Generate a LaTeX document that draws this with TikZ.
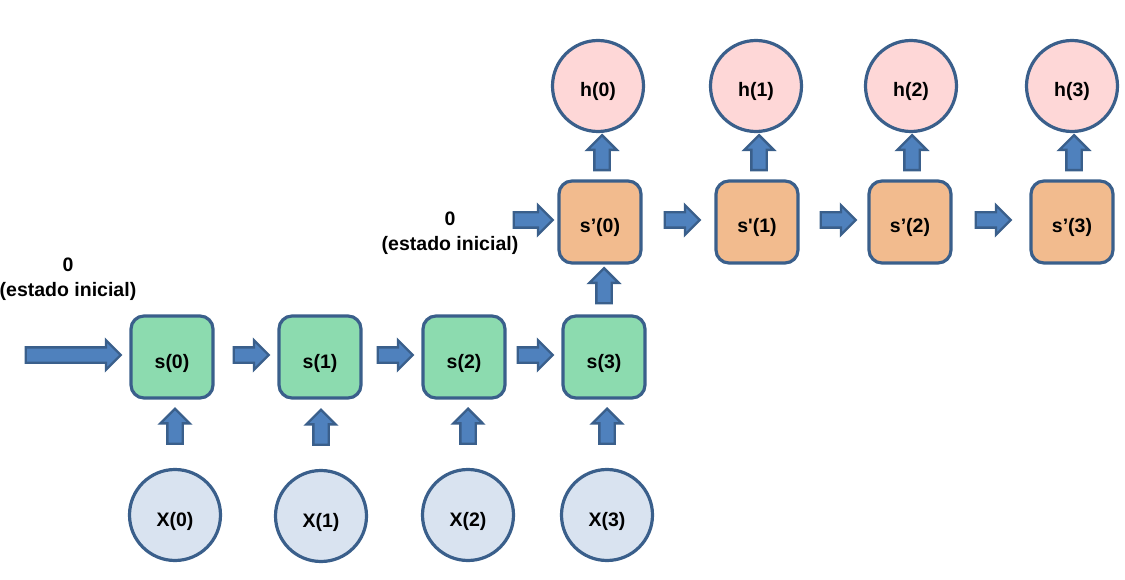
\documentclass[tikz,border=0pt]{standalone}
\usepackage{fontspec}
\setmainfont{Liberation Sans}
\usetikzlibrary{shapes.arrows,calc}

\definecolor{edgeblue}{HTML}{3A5F8B}
\definecolor{arrowblue}{HTML}{4F81BD}
\definecolor{stategreen}{HTML}{8CDBAF}
\definecolor{stateorange}{HTML}{F2BB8E}
\definecolor{outpink}{HTML}{FED7D7}
\definecolor{inblue}{HTML}{D9E3F0}

\tikzset{
  labelfont/.style={font=\fontsize{19.5pt}{25pt}\selectfont\bfseries},
  statebox/.style={labelfont, draw=edgeblue, line width=3.2pt, rounded corners=13pt, minimum size=82pt, inner sep=0pt, text height=22pt, text depth=0pt},
  ballnode/.style={labelfont, circle, draw=edgeblue, line width=3.2pt, minimum size=91pt, inner sep=0pt, text height=22pt, text depth=0pt},
  barrow/.style={single arrow, draw=edgeblue, fill=arrowblue, line width=2.4pt, single arrow head extend=7pt, inner xsep=0pt, inner ysep=6.5pt, minimum height=35pt}
}

\begin{document}
\begin{tikzpicture}[x=1pt, y=-1pt]

    % Fix the size of the picture
    \useasboundingbox (0,0) rectangle (1125,580);

    % Draw the input circles
    \node[ballnode, fill=inblue] (X0) at (175,515) {X(0)};
    \node[ballnode, fill=inblue] (X1) at (321,516) {X(1)};
    \node[ballnode, fill=inblue] (X2) at (468,515) {X(2)};
    \node[ballnode, fill=inblue] (X3) at (607,515) {X(3)};

    % Draw the first row of states
    \node[statebox, fill=stategreen] (s0) at (172,357) {s(0)};
    \node[statebox, fill=stategreen] (s1) at (320,357) {s(1)};
    \node[statebox, fill=stategreen] (s2) at (464,357) {s(2)};
    \node[statebox, fill=stategreen] (s3) at (604,357) {s(3)};

    % Draw the second row of states
    \node[statebox, fill=stateorange] (sp0) at (600,222) {s’(0)};
    \node[statebox, fill=stateorange] (sp1) at (757,222) {s\textquotesingle(1)};
    \node[statebox, fill=stateorange] (sp2) at (910,222) {s’(2)};
    \node[statebox, fill=stateorange] (sp3) at (1072,222) {s’(3)};

    % Draw the output circles
    \node[ballnode, fill=outpink] (h0) at (598,86) {h(0)};
    \node[ballnode, fill=outpink] (h1) at (756,86) {h(1)};
    \node[ballnode, fill=outpink] (h2) at (911,86) {h(2)};
    \node[ballnode, fill=outpink] (h3) at (1072,86) {h(3)};

    % Add the labels for the initial states
    \node[labelfont, align=center] (init0) at (68,279) {0\\(estado inicial)};
    \node[labelfont, align=center] (init1) at (450,233) {0\\(estado inicial)};

    % Arrows from the inputs up to the states
    \node[barrow, rotate=90, anchor=tail] (ax0) at ($(X0.north)+(0,-23)$) {};
    \node[barrow, rotate=90, anchor=tail] (ax1) at ($(X1.north)+(0,-23)$) {};
    \node[barrow, rotate=90, anchor=tail] (ax2) at ($(X2.north)+(0,-23)$) {};
    \node[barrow, rotate=90, anchor=tail] (ax3) at ($(X3.north)+(0,-23)$) {};

    % Arrows along the first row
    \node[barrow, minimum height=95pt, anchor=tip] (ain0) at ($(s0.west)+(-7,-2)$) {};
    \node[barrow, anchor=tip] (as01) at ($(s1.west)+(-7,-2)$) {};
    \node[barrow, anchor=tip] (as12) at ($(s2.west)+(-7,-2)$) {};
    \node[barrow, anchor=tip] (as23) at ($(s3.west)+(-7,-2)$) {};

    % Arrow from the first row to the second row
    \node[barrow, rotate=90, anchor=tail] (aup) at ($(s3.north)+(0,-10)$) {};

    % Arrows along the second row
    \node[barrow, minimum height=39pt, anchor=tip] (ain1) at ($(sp0.west)+(-3,-2)$) {};
    \node[barrow, anchor=tip] (ap01) at ($(sp1.west)+(-13,-2)$) {};
    \node[barrow, anchor=tip] (ap12) at ($(sp2.west)+(-10,-2)$) {};
    \node[barrow, anchor=tip] (ap23) at ($(sp3.west)+(-17,-2)$) {};

    % Arrows from the second row up to the outputs
    \node[barrow, rotate=90, anchor=tail] (ah0) at ($(sp0.north)+(2,-8)$) {};
    \node[barrow, rotate=90, anchor=tail] (ah1) at ($(sp1.north)+(2,-8)$) {};
    \node[barrow, rotate=90, anchor=tail] (ah2) at ($(sp2.north)+(2,-8)$) {};
    \node[barrow, rotate=90, anchor=tail] (ah3) at ($(sp3.north)+(2,-8)$) {};

\end{tikzpicture}
\end{document}
